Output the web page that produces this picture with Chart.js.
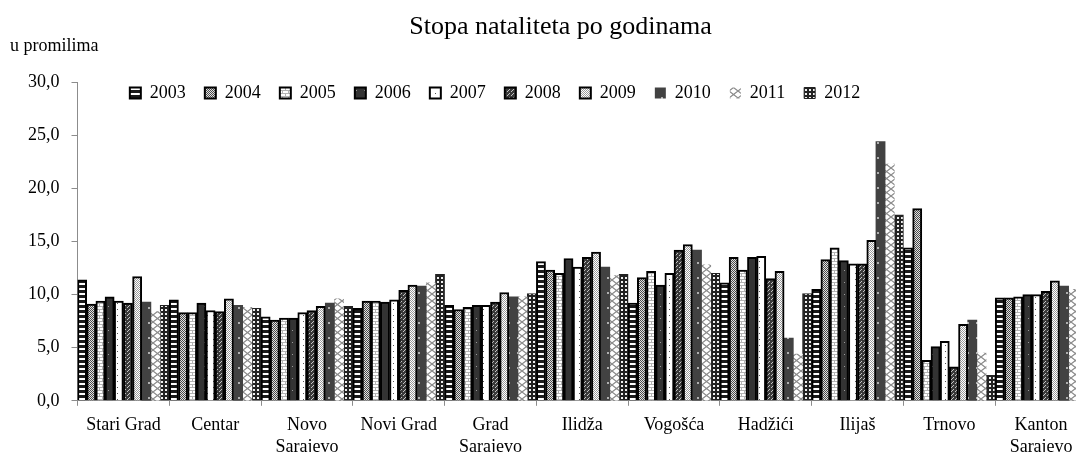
<!DOCTYPE html>
<html>
<head>
<meta charset="utf-8">
<script src="https://cdn.jsdelivr.net/npm/chart.js@4/dist/chart.umd.min.js"></script>
<style>
	html, body { margin: 0; padding: 0; background: #fff; overflow: hidden; }
	#wrap { width: 1076px; height: 452px; overflow: hidden; }
</style>
</head>
<body>
<div id="wrap"><canvas id="chart" width="1088" height="467"></canvas></div>
<script>
// Municipalities (x axis) and years (series)
const categories = ["Stari Grad", "Centar", ["Novo", "Sarajevo"], "Novi Grad", ["Grad", "Sarajevo"],
	"Ilidža", "Vogošća", "Hadžići", "Ilijaš", "Trnovo", ["Kanton", "Sarajevo"]];
const years = ["2003", "2004", "2005", "2006", "2007", "2008", "2009", "2010", "2011", "2012"];

// Birth rate, per mille
const y2003 = [11.4, 9.5, 7.9, 8.7, 9.0, 13.1, 9.2, 11.1, 10.5, 14.4, 9.7];
const y2004 = [9.1, 8.3, 7.6, 9.4, 8.6, 12.3, 11.6, 13.5, 13.3, 18.1, 9.7];
const y2005 = [9.4, 8.3, 7.8, 9.4, 8.8, 12.0, 12.2, 12.3, 14.4, 3.8, 9.8];
const y2006 = [9.8, 9.2, 7.8, 9.3, 9.0, 13.4, 10.9, 13.5, 13.2, 5.1, 10.0];
const y2007 = [9.4, 8.5, 8.3, 9.5, 9.0, 12.6, 12.0, 13.6, 12.9, 5.6, 10.0];
const y2008 = [9.2, 8.4, 8.5, 10.4, 9.3, 13.5, 14.2, 11.5, 12.9, 3.2, 10.3];
const y2009 = [11.7, 9.6, 8.9, 10.9, 10.2, 14.0, 14.7, 12.2, 15.1, 7.2, 11.3];
const y2010 = [9.3, 9.0, 9.2, 10.8, 9.8, 12.6, 14.2, 5.9, 24.4, 7.6, 10.8];
const y2011 = [8.4, 8.8, 9.6, 11.1, 9.8, 11.8, 12.8, 4.4, 22.3, 4.5, 10.5];
const y2012 = [9.0, 8.7, 8.9, 11.9, 10.1, 11.9, 12.0, 10.1, 17.5, 2.4, 10.8];

const yTicks = [0, 5, 10, 15, 20, 25, 30];

const series = [y2003, y2004, y2005, y2006, y2007, y2008, y2009, y2010, y2011, y2012];

// Small grayscale fill patterns, one per year
function makePattern(w, h, draw){
	const c = document.createElement("canvas");
	c.width = w; c.height = h;
	const g = c.getContext("2d");
	draw(g, w, h);
	return g.createPattern(c, "repeat");
}
function px(g, color, pts){
	g.fillStyle = color;
	pts.forEach(p => g.fillRect(p[0], p[1], p[2] || 1, p[3] || 1));
}

const patterns = [
	makePattern(4, 5, g => { px(g, "#fff", [[0, 0, 4, 5]]); px(g, "#1a1a1a", [[0, 0, 4, 3]]); }),
	makePattern(2, 2, g => { px(g, "#e2e2e2", [[0, 0, 2, 2]]); px(g, "#4a4a4a", [[0, 0], [1, 1]]); }),
	makePattern(6, 6, g => { px(g, "#fff", [[0, 0, 6, 6]]); px(g, "#b4b4b4", [[0, 0, 6, 1], [0, 3, 6, 1], [0, 0, 1, 3], [3, 3, 1, 3]]); }),
	makePattern(8, 12, g => { px(g, "#333", [[0, 0, 8, 12]]); px(g, "#9a9a9a", [[4, 6]]); }),
	makePattern(6, 6, g => { px(g, "#fff", [[0, 0, 6, 6]]); px(g, "#555", [[3, 3]]); }),
	makePattern(4, 4, g => { px(g, "#3a3a3a", [[0, 0, 4, 4]]); px(g, "#c4c4c4", [[1, 1], [3, 3], [0, 2]]); }),
	makePattern(2, 2, g => { px(g, "#fff", [[0, 0, 2, 2]]); px(g, "#9a9a9a", [[0, 0], [1, 1]]); }),
	makePattern(9, 15, g => { px(g, "#424242", [[0, 0, 9, 15]]); px(g, "#b0b0b0", [[4, 7, 2, 2]]); }),
	makePattern(9, 14, g => {
		g.fillStyle = "#fff"; g.fillRect(0, 0, 9, 14);
		g.strokeStyle = "#8a8a8a"; g.lineWidth = 1.2;
		g.beginPath();
		g.moveTo(0, 0); g.lineTo(9, 7); g.lineTo(0, 14);
		g.moveTo(9, 0); g.lineTo(0, 7); g.lineTo(9, 14);
		g.stroke();
	}),
	makePattern(4, 4, g => { px(g, "#222", [[0, 0, 4, 4]]); px(g, "#f0f0f0", [[1, 1, 2, 2]]); }),
];
const borders = [2, 2, 2, 2, 2, 2, 2, 0, 0, 1];

// The legend sits inside the plot area in the original, so we take away its height
// and place it by hand after layout.
const legendPlace = {
	id: "legendPlace",
	beforeInit(chart){
		const fit = chart.legend.fit;
		chart.legend.fit = function(){
			fit.call(this);
			this.height = 0;
		};
	},
	afterLayout(chart){
		const lg = chart.legend;
		const shift = 495 - chart.width / 2;
		lg.left = shift; lg.right = chart.width + shift;
		lg.top = 65; lg.bottom = 65 + 60;
		const tb = chart.titleBlock;
		tb.left += 9; tb.right += 9;
	},
	afterDraw(chart){
		const ctx = chart.ctx;
		ctx.save();
		ctx.font = "18px 'Times New Roman', 'Liberation Serif', serif";
		ctx.fillStyle = "#000";
		ctx.textBaseline = "alphabetic";
		ctx.fillText("u promilima", 10, 51);
		ctx.restore();
	}
};

Chart.defaults.font.family = "'Times New Roman', 'Liberation Serif', serif";
Chart.defaults.color = "#000";

new Chart(document.getElementById("chart"), {
	type: "bar",
	data: {
		labels: categories,
		datasets: years.map((yr, i) => ({
			label: yr,
			data: series[i],
			backgroundColor: patterns[i],
			borderColor: i == 9 ? "#222" : "#000",
			borderWidth: borders[i],
			categoryPercentage: 1,
			barPercentage: 1,
		})),
	},
	options: {
		responsive: false,
		animation: false,
		events: [],
		layout: { padding: { left: 16, right: 1, top: 0, bottom: 0 } },
		plugins: {
			title: {
				display: true,
				text: "Stopa nataliteta po godinama",
				font: { size: 26, weight: "normal" },
				color: "#000",
				padding: { top: 12, bottom: 39 },
			},
			legend: {
				position: "top",
				labels: {
					boxWidth: 11,
					boxHeight: 11,
					padding: 19,
					font: { size: 18 },
					color: "#000",
				},
			},
			tooltip: { enabled: false },
		},
		scales: {
			x: {
				grid: { display: true, drawOnChartArea: false, drawTicks: true, tickLength: 5, color: "#8c8c8c", offset: true },
				border: { color: "#8c8c8c" },
				ticks: { font: { size: 18 }, padding: 9, maxRotation: 0, autoSkip: false, color: "#000" },
			},
			y: {
				min: 0,
				max: 30,
				afterBuildTicks: axis => { axis.ticks = yTicks.map(v => ({ value: v })); },
				grid: { display: true, drawOnChartArea: false, drawTicks: true, tickLength: 6, color: "#8c8c8c" },
				border: { color: "#8c8c8c" },
				ticks: {
					font: { size: 18 },
					padding: 12,
					color: "#000",
					callback: v => v.toFixed(1).replace(".", ","),
				},
			},
		},
	},
	plugins: [legendPlace],
});
</script>
</body>
</html>
